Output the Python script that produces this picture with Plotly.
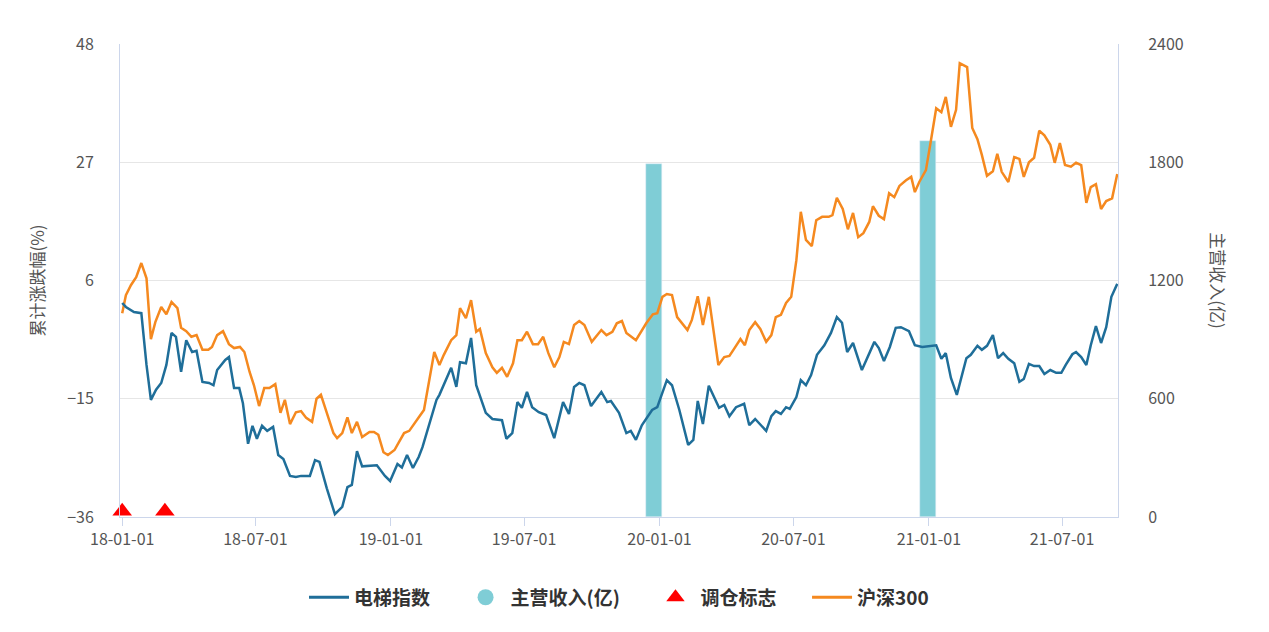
import pandas as pd
import plotly.graph_objects as go

# 电梯指数 (days since 2018-01-01, 累计涨跌幅 %)
elev_days = [0, 5, 16, 26, 33, 39, 46, 53, 60, 67, 73, 80, 87, 95, 101, 109, 118, 124, 129, 140,
             145, 152, 159, 164, 171, 177, 183, 190, 197, 205, 212, 219, 228, 236, 243, 255, 262, 268, 278, 289,
             299, 306, 312, 319, 326, 338, 346, 357, 364, 374, 380, 387, 395, 403, 408, 427, 431, 447, 454, 459,
             467, 474, 481, 494, 503, 516, 522, 530, 537, 543, 550, 557, 566, 576, 587, 599, 607, 614, 621, 628,
             637, 651, 659, 664, 675, 685, 691, 698, 706, 720, 727, 740, 747, 757, 769, 776, 782, 789, 797, 811,
             818, 825, 834, 845, 852, 860, 875, 882, 888, 895, 902, 907, 916, 922, 929, 936, 944, 954, 963, 971,
             978, 985, 993, 1005, 1022, 1028, 1035, 1043, 1051, 1058, 1069, 1077, 1087, 1106, 1113, 1119, 1126, 1134, 1147, 1153,
             1162, 1168, 1175, 1183, 1190, 1197, 1204, 1212, 1219, 1225, 1232, 1239, 1246, 1253, 1261, 1269, 1276, 1282, 1291, 1296,
             1303, 1310, 1316, 1323, 1330, 1337, 1344, 1352]
elev_vals = [2.0, 1.3, 0.4, 0.2, -9, -15.2, -13.4, -12.2, -9, -3.3, -4, -10.2, -4.6, -6.7, -6.5, -12, -12.2, -12.6, -9.9, -8.1,
             -7.6, -13.1, -13.1, -15.8, -23, -19.8, -22.1, -19.8, -20.7, -20, -25, -25.7, -28.7, -28.9, -28.7, -28.7, -25.9, -26.2, -30.9, -35.5,
             -34.2, -30.7, -30.3, -24.3, -27, -26.8, -26.8, -28.7, -29.6, -26.6, -27.2, -25, -27.3, -25.3, -23.6, -15.2, -14.3, -9.5, -12.9, -8.5,
             -8.7, -4.2, -12.6, -17.5, -18.6, -18.8, -22.1, -21.1, -15.6, -16.6, -13.8, -16.5, -17.4, -17.9, -22, -15.6, -17.7, -12.9, -12.2, -12.6,
             -16.3, -13.8, -15.6, -15.4, -17.5, -21.1, -20.7, -22.3, -19.7, -17, -16.5, -11.7, -12.6, -17, -23.2, -22.3, -15.4, -19.5, -12.7, -16.6,
             -16.1, -18.1, -16.5, -15.9, -19.7, -18.6, -20.7, -18.1, -17.2, -17.7, -16.5, -16.8, -14.7, -11.7, -12.6, -10.8, -7.2, -5.5, -3.3, -0.5,
             -1.5, -6.7, -5.1, -9.9, -4.9, -6, -8.3, -5.8, -2.4, -2.3, -3, -5.5, -5.8, -5.5, -7.9, -6.9, -11.3, -14.3, -7.8, -7.2,
             -5.6, -6.3, -5.6, -3.7, -7.8, -6.9, -7.9, -8.7, -12, -11.5, -8.8, -9.2, -9.2, -10.6, -9.9, -10.4, -10.4, -9, -7.1, -6.7,
             -7.6, -9, -5.5, -2.1, -5.1, -2.3, 3.1, 5.4]

# 沪深300
hs_days = [0, 5, 12, 19, 26, 33, 39, 45, 53, 60, 67, 75, 80, 87, 94, 101, 109, 117, 122, 129,
           137, 145, 152, 160, 166, 173, 179, 186, 193, 200, 208, 215, 221, 228, 236, 243, 250, 258, 264, 270,
           278, 287, 292, 299, 306, 312, 319, 326, 336, 342, 348, 355, 361, 370, 376, 383, 390, 397, 403, 410,
           417, 424, 431, 437, 447, 454, 459, 467, 474, 481, 486, 494, 503, 509, 516, 523, 531, 537, 543, 550,
           558, 565, 572, 579, 587, 594, 600, 607, 614, 621, 628, 638, 651, 658, 666, 672, 679, 685, 698, 712,
           721, 727, 734, 740, 747, 754, 768, 774, 782, 789, 797, 810, 818, 825, 832, 840, 846, 852, 860, 867,
           875, 882, 888, 895, 902, 909, 916, 922, 929, 937, 943, 951, 960, 965, 971, 979, 986, 993, 1000, 1007,
           1015, 1020, 1028, 1035, 1042, 1049, 1056, 1065, 1072, 1077, 1083, 1092, 1099, 1106, 1113, 1119, 1126, 1133, 1138, 1148,
           1155, 1162, 1168, 1175, 1183, 1189, 1195, 1204, 1212, 1219, 1225, 1232, 1239, 1246, 1253, 1261, 1267, 1274, 1281, 1289,
           1296, 1303, 1310, 1316, 1323, 1330, 1337, 1345, 1352]
hs_vals = [0.2, 3.4, 5.2, 6.6, 9.1, 6.4, -4.4, -1.4, 1.3, 0, 2.2, 1.1, -2.4, -3, -4, -3.7, -6.3, -6.3, -5.8, -3.7,
           -3, -5.3, -6, -5.8, -6.7, -10.2, -12.6, -16.3, -13.1, -13.1, -12.4, -17.5, -15.2, -19.5, -17.4, -17.2, -18.4, -19.1, -15, -14.3,
           -17.5, -21.1, -22, -21.1, -18.3, -21.1, -19.1, -21.8, -20.9, -20.9, -21.4, -24.5, -25, -24.1, -22.7, -21.1, -20.7, -19.3, -18.3, -17,
           -11.7, -6.7, -9, -7.2, -4.6, -3.7, 1.1, -0.7, 2.5, -3.1, -2.6, -6.9, -9.4, -10.4, -9.5, -11.1, -8.7, -4.6, -4.6, -3.1,
           -5.3, -5.3, -4, -6.9, -9.4, -7.6, -4.9, -5.3, -1.9, -1.2, -1.9, -4.9, -2.8, -3.7, -3.1, -1.6, -1.2, -3.3, -4.6, -1.6,
           0, 0.2, 3.1, 3.6, 3.4, -0.5, -2.8, -1, 3.2, -1.9, 3.1, -9, -7.6, -7.4, -6, -4.4, -5.5, -2.8, -1.4, -2.6,
           -4.9, -3.7, -0.5, -0.1, 2, 3.1, 9.6, 18.2, 13.2, 12.1, 16.7, 17.3, 17.3, 17.6, 20.7, 18.7, 15.1, 18, 13.7, 14.4,
           16.4, 19.2, 17.5, 16.9, 21.5, 20.8, 22.8, 23.8, 24.4, 21.7, 23.5, 25.6, 31, 36.6, 35.9, 38.6, 33.3, 36.3, 44.6, 43.9,
           33.1, 31.1, 28.3, 24.6, 25.4, 28.5, 25.3, 23.5, 27.9, 27.6, 24.4, 27, 27.8, 32.6, 31.8, 30.1, 26.9, 30.4, 26.5, 26.2,
           26.9, 26.5, 19.8, 22.6, 23.1, 18.7, 20.1, 20.6, 24.9]

# 主营收入(亿)
rev_dates = ['2019-12-25', '2020-12-31']
rev_vals = [1790, 1910]

# 调仓标志
adj_dates = ['2018-01-01', '2018-02-28']

assert len(elev_days) == len(elev_vals), (len(elev_days), len(elev_vals))
assert len(hs_days) == len(hs_vals), (len(hs_days), len(hs_vals))

base = pd.Timestamp('2018-01-01')
elev_x = base + pd.to_timedelta(elev_days, unit='D')
hs_x = base + pd.to_timedelta(hs_days, unit='D')

BLUE = '#1f6e99'
ORANGE = '#f5891f'
TEAL = '#7fcdd6'
FONT = 'Noto Sans CJK SC'

fig = go.Figure()

# bars on the primary (right-side) axis so the lines overlay them
fig.add_trace(go.Bar(x=pd.to_datetime(rev_dates), y=rev_vals, yaxis='y', width=22 * 86400000,
                     marker_color=TEAL, name='主营收入(亿)', showlegend=False))
fig.add_trace(go.Scatter(x=hs_x, y=hs_vals, mode='lines', name='沪深300', yaxis='y2',
                         line=dict(color=ORANGE, width=2.5), showlegend=False))
fig.add_trace(go.Scatter(x=elev_x, y=elev_vals, mode='lines', name='电梯指数', yaxis='y2',
                         line=dict(color=BLUE, width=2.5), showlegend=False))
fig.add_trace(go.Scatter(x=pd.to_datetime(adj_dates), y=[-35, -35], mode='markers', name='调仓标志',
                         yaxis='y2', marker=dict(symbol='triangle-up', color='red', size=17),
                         cliponaxis=False, showlegend=False))

# legend entries
fig.add_trace(go.Scatter(x=[None], y=[None], mode='lines', name='<b>电梯指数</b>      ', line=dict(color=BLUE, width=3)))
fig.add_trace(go.Scatter(x=[None], y=[None], mode='markers', name='<b>主营收入(亿)</b>      ',
                         marker=dict(symbol='circle', color=TEAL, size=17)))
fig.add_trace(go.Scatter(x=[None], y=[None], mode='markers', name='<b>调仓标志</b>      ',
                         marker=dict(symbol='triangle-up', color='red', size=17)))
fig.add_trace(go.Scatter(x=[None], y=[None], mode='lines', name='<b>沪深300</b>', line=dict(color=ORANGE, width=3)))

fig.update_layout(
    width=1269, height=632,
    margin=dict(l=112, r=159, t=36, b=123),
    plot_bgcolor='white', paper_bgcolor='white',
    font=dict(family=FONT, size=15, color='#555555'),
    xaxis=dict(type='date', range=['2017-12-29', '2021-09-15'], tickformat='%y-%m-%d',
               dtick='M6', tick0='2018-01-01', showgrid=False, showline=True, linecolor='#ccd6eb',
               ticks='outside', tickcolor='#ccd6eb', ticklen=8, tickfont=dict(size=16)),
    yaxis=dict(range=[0, 2400], tickvals=[0, 600, 1200, 1800, 2400], side='right',
               showgrid=False, zeroline=False, showline=True, linecolor='#ccd6eb', tickfont=dict(size=16),
               ticks='outside', ticklen=26, tickcolor='rgba(0,0,0,0)'),
    yaxis2=dict(range=[-36, 48], tickvals=[-36, -15, 6, 27, 48], overlaying='y', side='left',
                showgrid=True, gridcolor='#e6e6e6', zeroline=False, showline=True, linecolor='#ccd6eb',
                tickfont=dict(size=16), ticks='outside', ticklen=22, tickcolor='rgba(0,0,0,0)',
                title=dict(text='累计涨跌幅(%)', font=dict(size=17), standoff=18)),
    legend=dict(orientation='h', x=0.5, xanchor='center', y=-0.17, yanchor='middle',
                font=dict(size=19, color='#333333'), itemwidth=40),
    bargap=0,
)
fig.add_annotation(text='主营收入(亿)', xref='paper', yref='paper', x=1.115, y=0.5, showarrow=False,
                   textangle=90, font=dict(size=17, color='#555555'))

fig.write_html('out.html')
